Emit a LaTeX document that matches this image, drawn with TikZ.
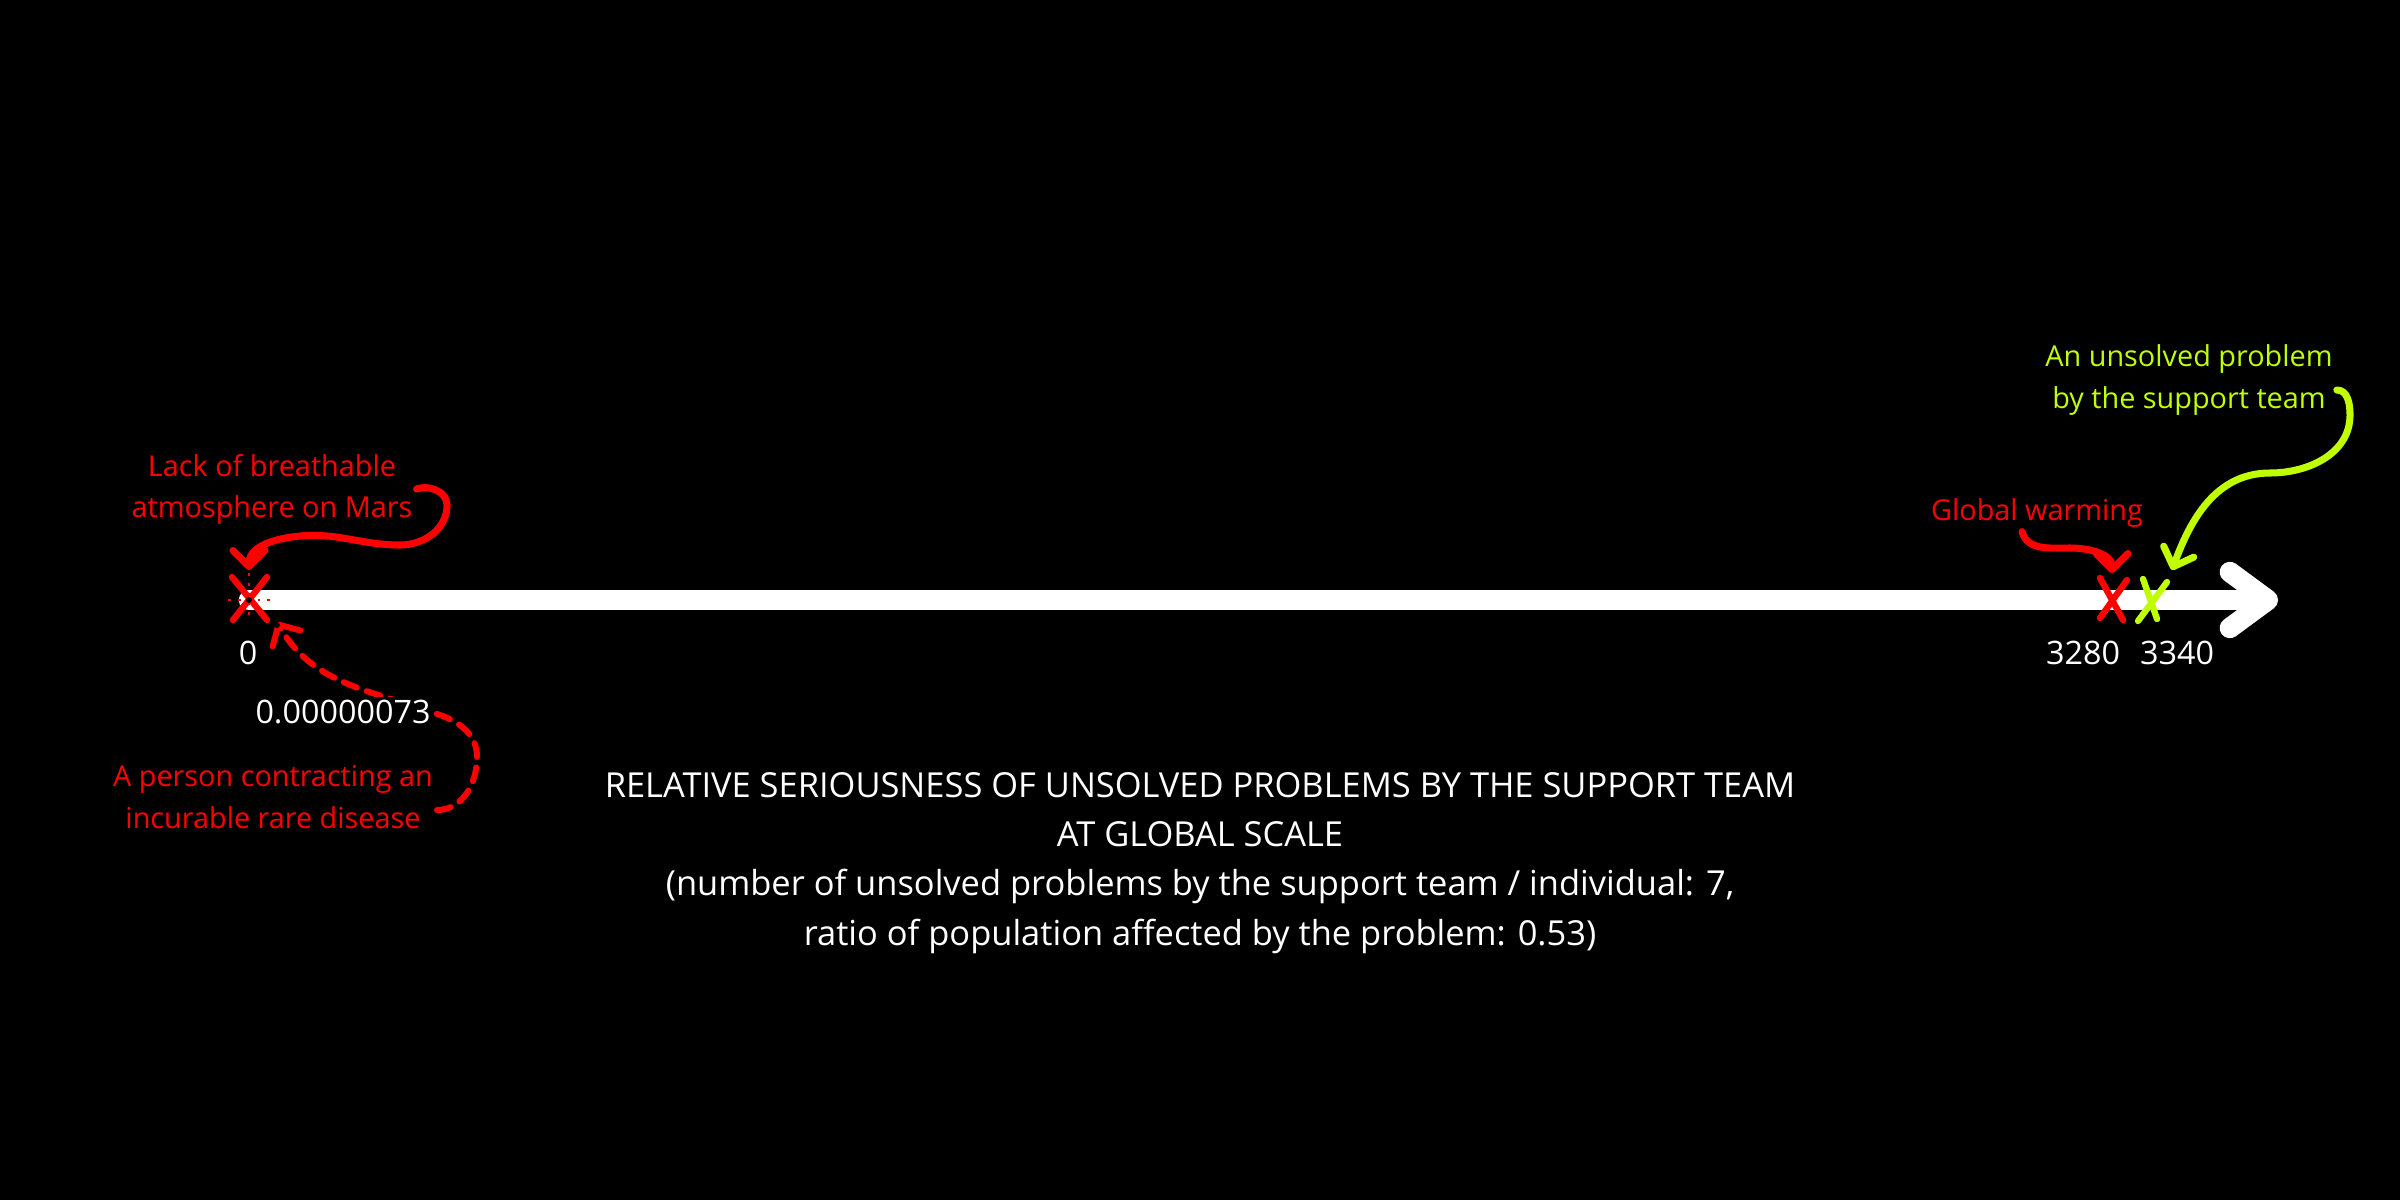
\documentclass[tikz,border=0pt]{standalone}
\usepackage{fontspec}
\setmainfont{Open Sans}
\usepackage{xcolor}
\usetikzlibrary{positioning,arrows.meta,calc}
\definecolor{probred}{RGB}{255,0,0}
\definecolor{teamgreen}{RGB}{192,255,0}

\begin{document}
\begin{tikzpicture}[
    >={Straight Barb[round,length=1.6mm,width=3.2mm]},
    lbl/.style={font=\fontsize{8.2}{11.7}\selectfont,align=center,inner sep=1pt},
    num/.style={text=white,font=\fontsize{9.2}{11}\selectfont,inner sep=1pt},
    curl/.style={->,line width=2pt,line cap=round},
    xmark/.style={line width=1.8pt,line cap=round}
]
    % background
    \fill[black] (0,0) rectangle (24,12);
    \useasboundingbox (0,0) rectangle (24,12);

    % Axis
    \coordinate (zero) at (2.49,6.0);
    \coordinate (axisend) at (22.78,6.0);
    \draw[white,line width=5.8pt,line cap=round,-{Straight Barb[round,length=3.8mm,width=5.6mm]}] (zero) -- (axisend);

    % Marks on the axis
    \coordinate (mars) at (2.49,6.0);
    \coordinate (warm) at (21.13,6.0);
    \coordinate (team) at (21.50,6.0);
    \draw[probred,dotted,line width=0.8pt] (mars) +(0,0.27) -- +(0,-0.22) (mars) +(-0.21,0) -- +(0.23,0);
    \draw[probred,xmark] (mars) +(-0.17,0.23) -- +(0.18,-0.20) (mars) +(0.18,0.23) -- +(-0.16,-0.20);
    \fill[black] (mars) circle (0.03);
    \draw[probred,xmark] (warm) +(-0.13,0.22) -- +(0.10,-0.20) (warm) +(0.14,0.20) -- +(-0.13,-0.18);
    \draw[teamgreen,xmark] (team) +(-0.07,0.21) -- +(0.07,-0.19) (team) +(0.17,0.18) -- +(-0.12,-0.21);

    % Values
    \node[num] (n0) at (2.48,5.47) {0};
    \node[num] (n3280) at (20.83,5.47) {3280};
    \node[num] (n3340) at (21.77,5.47) {3340};

    % Lack of breathable atmosphere
    \node[lbl,text=probred] (atmo) at (2.72,7.11) {Lack of breathable\\atmosphere on Mars};
    \draw[probred,curl] (atmo.east) to[out=20,in=90] (4.47,6.95) to[out=-90,in=0] (4.0,6.55)
        to[out=180,in=5] (3.0,6.64) to[out=185,in=90] (2.49,6.30);

    % Rare disease
    \coordinate (rareout) at (4.37,3.90);
    \coordinate (raretip) at (2.77,5.78);
    \node[lbl,text=probred] (rare) at (2.73,4.03) {A person contracting an\\incurable rare disease};
    \draw[probred,curl,line width=1.7pt,dash pattern=on 4pt off 3pt] (rareout) to[out=0,in=-90] (4.77,4.43)
        to[out=90,in=-20] (4.40,4.85) to[out=160,in=-60] (raretip);
    \fill[black] (raretip) ++(0,-0.03) circle (0.03);
    \node[num,fill=black] (nrare) at (3.43,4.88) {0.00000073};

    % Global warming
    \node[lbl,text=probred] (gw) at (20.37,6.87) {Global warming};
    \draw[probred,curl] ([xshift=-1.5mm]gw.south) to[out=-75,in=180] (20.70,6.52) to[out=0,in=90] (21.12,6.27);

    % Unsolved problem by the support team
    \node[lbl,text=teamgreen] (unsolved) at (21.89,8.20) {An unsolved problem\\by the support team};
    \draw[teamgreen,curl] ([yshift=-1mm]unsolved.east) to[out=0,in=90] (23.50,7.85) to[out=-90,in=0] (22.70,7.27)
        to[out=180,in=70] (21.72,6.30);

    % Title
    \node[text=white,font=\fontsize{9.8}{14}\selectfont,align=center] (title) at (12,3.37)
        {RELATIVE SERIOUSNESS OF UNSOLVED PROBLEMS BY THE SUPPORT TEAM\\AT GLOBAL SCALE\\
         (number of unsolved problems by the support team / individual: 7,\\
         ratio of population affected by the problem: 0.53)};
\end{tikzpicture}
\end{document}
